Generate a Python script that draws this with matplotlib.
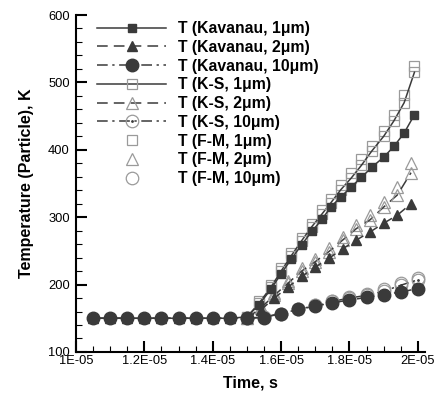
import numpy as np
import matplotlib
matplotlib.use("Agg")
import matplotlib.pyplot as plt
from matplotlib.ticker import MultipleLocator, FuncFormatter
from matplotlib.legend_handler import HandlerTuple

plt.rcParams['font.family'] = ['Liberation Sans', 'DejaVu Sans']

# time in units of 1E-05 s
t_base = [1.05, 1.10, 1.15, 1.20, 1.25, 1.30, 1.35, 1.40, 1.45]
T_base = [150] * 9

t_1um = [1.50, 1.535, 1.57, 1.60, 1.63, 1.66, 1.69, 1.72, 1.745, 1.775,
         1.805, 1.835, 1.865, 1.90, 1.93, 1.96, 1.99]
kav_1um = [152, 170, 193, 216, 238, 259, 279, 297, 315, 330,
           345, 359, 374, 389, 405, 425, 452]
ks_1um = [152, 172, 196, 220, 243, 265, 286, 305, 321, 341,
          358, 377, 398, 420, 443, 470, 515]
fm_1um = [152, 176, 200, 224, 247, 269, 290, 310, 327, 348,
          366, 386, 406, 428, 451, 482, 524]

t_2um = [1.50, 1.54, 1.58, 1.62, 1.66, 1.70, 1.74, 1.78, 1.82, 1.86,
         1.90, 1.94, 1.98]
kav_2um = [151, 162, 180, 196, 212, 226, 239, 253, 266, 278, 291, 303, 320]
ks_2um = [150, 165, 184, 202, 220, 234, 249, 266, 283, 296, 315, 333, 366]
fm_2um = [150, 167, 187, 205, 224, 238, 254, 271, 289, 303, 322, 345, 380]

t_10um = [1.50, 1.55, 1.60, 1.65, 1.70, 1.75, 1.80, 1.85, 1.90, 1.95, 2.00]
kav_10um = [150, 151, 157, 163, 168, 173, 177, 181, 185, 189, 194]
ks_10um = [150, 152, 157, 163, 169, 175, 180, 184, 190, 199, 207]
fm_10um = [150, 152, 157, 163, 169, 175, 182, 186, 193, 202, 210]

dark = '#3a3a3a'
light = '#9a9a9a'

def sec(t):
    return np.array(t) * 1e-5

fig = plt.figure(figsize=(4.38, 3.95), dpi=100)
ax = fig.add_axes([0.1735, 0.109, 0.7965, 0.853])

# open markers (K-S and F-M) first so the filled ones sit on top
h_fm1, = ax.plot(sec(t_1um), fm_1um, ls='none', marker='s', ms=6.5, mfc='none',
                 mec=light, mew=0.9)
h_fm2, = ax.plot(sec(t_2um), fm_2um, ls='none', marker='^', ms=8, mfc='none',
                 mec=light, mew=0.9)
h_fm10, = ax.plot(sec(t_10um), fm_10um, ls='none', marker='o', ms=9, mfc='none',
                  mec=light, mew=0.9)
h_ks1, = ax.plot(sec(t_1um), ks_1um, color=dark, lw=1.1, ls='-', marker='s', ms=6.5,
                 mfc='none', mec=light, mew=0.9)
h_ks2, = ax.plot(sec(t_2um), ks_2um, color=dark, lw=1.1, ls=(0, (7, 4)), marker='^',
                 ms=8, mfc='none', mec=light, mew=0.9)
h_ks10, = ax.plot(sec(t_10um), ks_10um, color=dark, lw=1.1, ls=(0, (7, 3, 1.5, 3)),
                  marker='o', ms=9, mfc='none', mec=light, mew=0.9)
h_ks10d, = ax.plot(sec(t_10um), ks_10um, ls='none', marker='.', ms=2, color=dark)

# Kavanau (filled)
h_k1, = ax.plot(sec(t_base + t_1um), T_base + kav_1um, color=dark, lw=1.1, ls='-',
                marker='s', ms=6, mfc=dark, mec=dark)
h_k10, = ax.plot(sec(t_base + t_10um), T_base + kav_10um, color=dark, lw=1.1,
                 ls=(0, (7, 3, 1.5, 3)), marker='o', ms=9, mfc=dark, mec=dark)
h_k2, = ax.plot(sec(t_base + t_2um), T_base + kav_2um, color=dark, lw=1.1,
                ls=(0, (7, 4)), marker='^', ms=6.5, mfc=dark, mec=dark)

ax.set_xlim(1e-5, 2.0205e-5)
ax.set_ylim(100, 600)

ax.spines['top'].set_visible(False)
ax.spines['right'].set_visible(False)
for s in ['left', 'bottom']:
    ax.spines[s].set_linewidth(1.5)

ax.xaxis.set_major_locator(MultipleLocator(0.2e-5))
ax.xaxis.set_minor_locator(MultipleLocator(0.05e-5))
ax.yaxis.set_major_locator(MultipleLocator(100))
ax.yaxis.set_minor_locator(MultipleLocator(20))

def fmt_x(v, pos):
    s = '%.1E' % v
    m, e = s.split('E')
    if m.endswith('.0'):
        m = m[:-2]
    return m + 'E' + e

ax.xaxis.set_major_formatter(FuncFormatter(fmt_x))
ax.tick_params(which='major', direction='in', length=8, width=1.5, labelsize=9.3)
ax.tick_params(axis='x', which='major', pad=2)
ax.tick_params(axis='y', which='major', pad=4.5)
ax.tick_params(which='minor', direction='in', length=4, width=0.8)

ax.set_xlabel('Time, s', fontsize=11.5, fontweight='bold', labelpad=6)
ax.set_ylabel('Temperature (Particle), K', fontsize=11.5, fontweight='bold', labelpad=10)

handles = [h_k1, h_k2, h_k10, h_ks1, h_ks2, (h_ks10, h_ks10d), h_fm1, h_fm2, h_fm10]
labels = ['T (Kavanau, 1μm)', 'T (Kavanau, 2μm)', 'T (Kavanau, 10μm)',
          'T (K-S, 1μm)', 'T (K-S, 2μm)', 'T (K-S, 10μm)',
          'T (F-M, 1μm)', 'T (F-M, 2μm)', 'T (F-M, 10μm)']
leg = ax.legend(handles, labels, loc='upper left', bbox_to_anchor=(0.061, 0.982),
                frameon=False, borderpad=0, borderaxespad=0, handlelength=4.4,
                handletextpad=0.75, labelspacing=0.24,
                prop={'weight': 'bold', 'size': 11.3},
                handler_map={tuple: HandlerTuple(ndivide=1)})

fig.savefig('out.png', dpi=100)
